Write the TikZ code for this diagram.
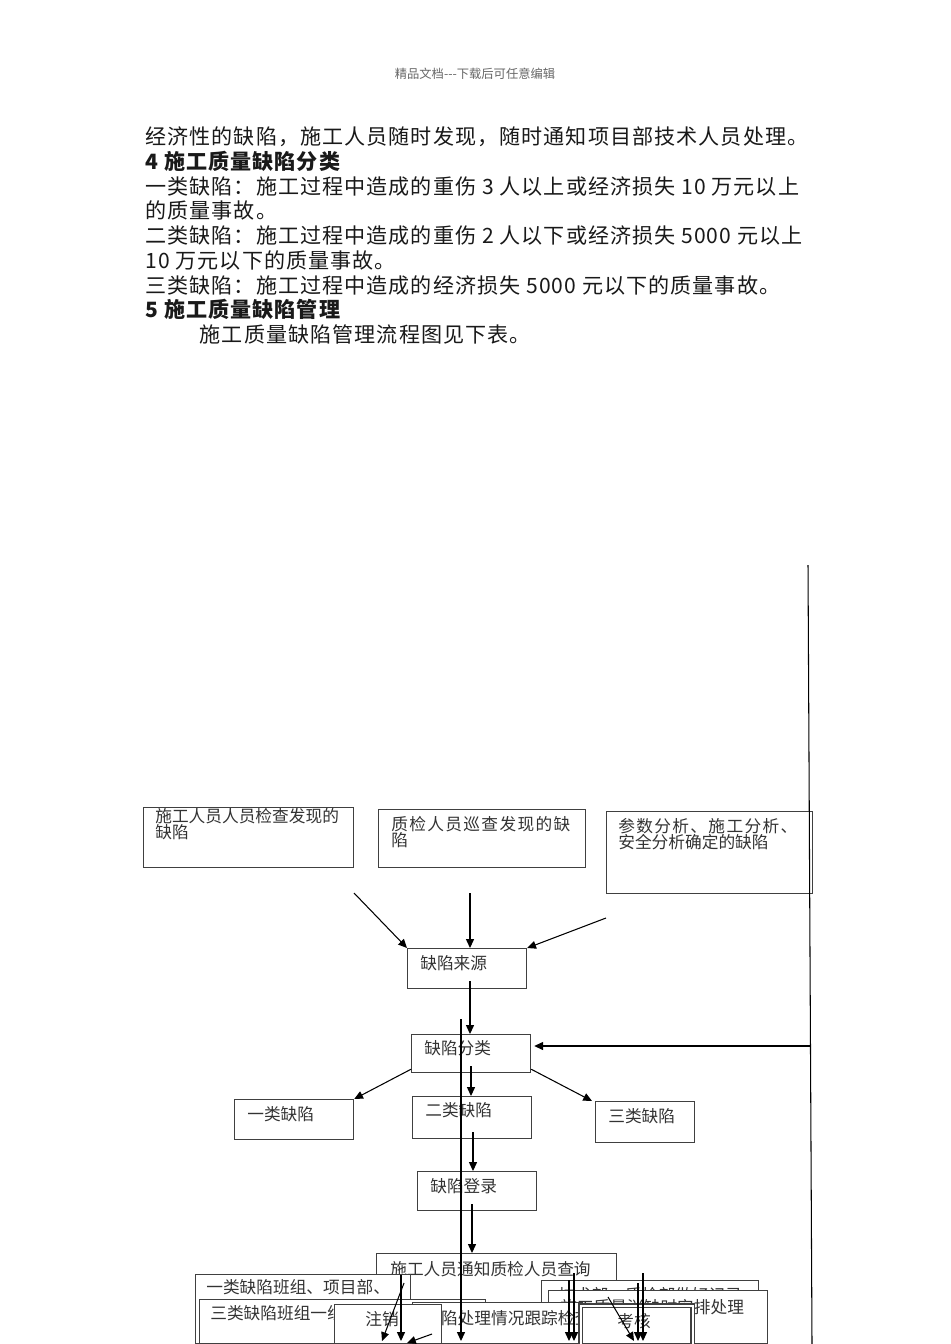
\documentclass[tikz,border=0pt]{standalone}
\usepackage{fontspec}
\setmainfont{Noto Sans CJK SC}
\usetikzlibrary{arrows.meta, positioning}
\newcommand{\spaced}[1]{{\addfontfeature{LetterSpace=8}#1}}

\begin{document}
\begin{tikzpicture}[x=0.02cm, y=-0.02cm, every node/.style={font=\fontsize{9.5}{9.1}\selectfont}]
\tikzstyle{box} = [rectangle, draw=black!75, fill=white, line width=0.7pt, anchor=north west, inner sep=0pt]
\tikzstyle{btxt} = [anchor=north west, align=left, inner sep=0pt, text=black!80, xshift=0.26cm, yshift=-0.15cm]
\tikzstyle{arrow} = [-{Triangle[length=5pt, width=4.5pt]}, line width=0.6pt]
\useasboundingbox (0,0) rectangle (950,1344);

% Page text
\node[font=\fontsize{7}{8}\selectfont, text=black!60] (head) at (475,74) {精品文档-{}-{}-下载后可任意编辑};
\node[anchor=north west, align=left, inner sep=0pt, text=black!90, font=\fontsize{12}{14.1}\selectfont\addfontfeature{LetterSpace=5}] (body) at (145,126.4) {%
经济性的缺陷，施工人员随时发现，随时通知项目部技术人员处理。\\
{\bfseries 4 施工质量缺陷分类}\\
一类缺陷：施工过程中造成的重伤 3 人以上或经济损失 10 万元以上\\
的质量事故。\\
二类缺陷：施工过程中造成的重伤 2 人以下或经济损失 5000 元以上\\
10 万元以下的质量事故。\\
三类缺陷：施工过程中造成的经济损失 5000 元以下的质量事故。\\
{\bfseries 5 施工质量缺陷管理}\\
\hspace*{31pt}施工质量缺陷管理流程图见下表。};

% Sources
\node[box, minimum width=4.2cm, minimum height=1.2cm] (srcA) at (143,807) {};
\node[btxt, xshift=-0.02cm, yshift=0.12cm] (srcAt) at (srcA.north west) {施工人员人员检查发现的\\缺陷};
\node[box, minimum width=4.14cm, minimum height=1.16cm] (srcB) at (378,809) {};
\node[btxt] (srcBt) at (srcB.north west) {\spaced{质检人员巡查发现的缺}\\陷};
\node[box, minimum width=4.12cm, minimum height=1.64cm] (srcC) at (606,811) {};
\node[btxt, xshift=-0.02cm] (srcCt) at (srcC.north west) {\spaced{参数分析、施工分析、}\\安全分析确定的缺陷};

% Main column
\node[box, minimum width=2.38cm, minimum height=0.8cm] (src) at (407,948) {};
\node[btxt] (srct) at (src.north west) {缺陷来源};
\node[box, minimum width=2.38cm, minimum height=0.76cm] (cls) at (411,1034) {};
\node[btxt, yshift=0.02cm] (clst) at (cls.north west) {缺陷分类};
\node[box, minimum width=2.38cm, minimum height=0.8cm] (c1) at (234,1099) {};
\node[btxt] (c1t) at (c1.north west) {一类缺陷};
\node[box, minimum width=2.38cm, minimum height=0.84cm] (c2) at (412,1096) {};
\node[btxt, yshift=0.02cm] (c2t) at (c2.north west) {二类缺陷};
\node[box, minimum width=1.98cm, minimum height=0.82cm] (c3) at (595,1101) {};
\node[btxt] (c3t) at (c3.north west) {三类缺陷};
\node[box, minimum width=2.38cm, minimum height=0.78cm] (reg) at (417,1171) {};
\node[btxt] (regt) at (reg.north west) {缺陷登录};

% Bottom boxes
\node[box, minimum width=4.8cm, minimum height=1.8cm] (notify) at (376,1253) {};
\node[btxt, xshift=0.02cm] (notifyt) at (notify.north west) {施工人员通知质检人员查询};
\node[box, minimum width=4.3cm, minimum height=1.38cm] (b1) at (195,1274) {};
\node[btxt, xshift=-0.04cm, yshift=0.04cm] (b1t) at (b1.north west) {一类缺陷班组、项目部、};
\node[box, minimum width=4.34cm, minimum height=1.26cm] (rec) at (541,1280) {};
\node[btxt, xshift=0.08cm, yshift=0.02cm] (rect) at (rec.north west) {技术部、质检部做好记录};
\node[box, minimum width=4.38cm, minimum height=1.06cm] (fix) at (548,1290) {};
\node[btxt, xshift=-0.02cm, yshift=-0.04cm] (fixt) at (fix.north west) {施工质量消缺时安排处理};
\node[box, minimum width=5.72cm, minimum height=0.88cm] (b3) at (199,1299) {};
\node[btxt, xshift=-0.04cm, yshift=0.02cm] (b3t) at (b3.north west) {三类缺陷班组一线};
\node[box, minimum width=3.4cm, minimum height=0.82cm] (chk) at (412,1302) {};
\node[btxt, xshift=-0.02cm] (chkt) at (chk.north west) {缺陷处理情况跟踪检查};
\node[box, minimum width=2.14cm, minimum height=0.78cm] (cancel) at (334,1304) {};
\node[btxt, xshift=0.36cm] (cancelt) at (cancel.north west) {注销};
\node[box, double, double distance=0.04cm, minimum width=2.24cm, minimum height=0.8cm] (assess) at (580,1305) {};
\node[btxt, xshift=0.48cm, yshift=-0.02cm] (assesst) at (assess.north west) {考核};

% Free ends
\coordinate (vA) at (354,893);
\coordinate (vB) at (470,893);
\coordinate (vC) at (606,918);
\coordinate (vS) at (470,981);
\coordinate (vK) at (471,1066);
\coordinate (vT) at (473,1132);
\coordinate (vR) at (472,1204);
\coordinate (rTop) at (808,565);
\coordinate (rBot) at (812,1344);
\coordinate (rMid) at (809.5,1046);
\coordinate (lTop) at (461,1019);
\coordinate (lBot) at (461,1341);

% Arrows
\draw[arrow] (vA) -- (src.north west);
\draw[arrow] (vB) -- (vB |- src.north);
\draw[arrow] (vC) -- (src.north east);
\draw[arrow] (vS) -- (vS |- cls.north);
\draw[arrow] ([yshift=0.08cm]cls.south west) -- (c1.north east);
\draw[arrow] (vK) -- (vK |- c2.north);
\draw[arrow] ([yshift=0.08cm]cls.south east) -- ([xshift=-0.06cm]c3.north west);
\draw[arrow] (vT) -- (vT |- reg.north);
\draw[arrow] (vR) -- (vR |- notify.north);
\draw[line width=0.6pt] (rTop) -- (rBot);
\draw[arrow] (rMid) -- ([xshift=0.06cm]cls.east |- rMid);
\draw[arrow] (lTop) -- (lBot);

% Arrows at the foot
\coordinate (f1) at (404,1283);
\coordinate (f2) at (401,1275);
\coordinate (f3) at (432,1334);
\coordinate (f4) at (569,1280);
\coordinate (f5) at (574,1273);
\coordinate (f6) at (608,1297);
\coordinate (f7) at (638,1283);
\coordinate (f8) at (643,1273);
\draw[arrow] (f1) -- (382,1341);
\draw[arrow] (f2) -- (f2 |- lBot);
\draw[arrow] (f3) -- (407,1343);
\draw[arrow] (f4) -- (f4 |- lBot);
\draw[arrow] (f5) -- (f5 |- lBot);
\draw[arrow] (f6) -- (634,1341);
\draw[arrow] (f7) -- (f7 |- lBot);
\draw[arrow] (f8) -- (f8 |- lBot);
\end{tikzpicture}
\end{document}
